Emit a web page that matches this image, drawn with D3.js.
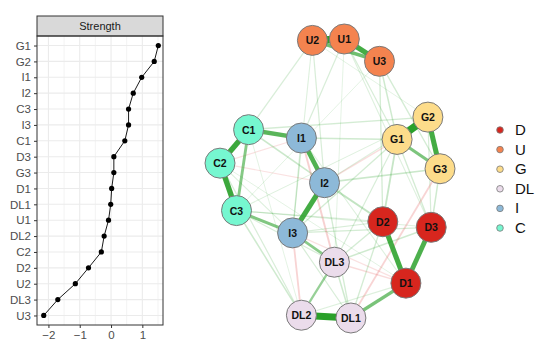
<!DOCTYPE html>
<html>
<head>
<meta charset="utf-8">
<script src="https://cdn.jsdelivr.net/npm/d3@7"></script>
<style>
  body { margin: 0; background: #fff; }
  svg { font-family: "Liberation Sans", Arial, sans-serif; }
</style>
</head>
<body>
<div id="chart"></div>
<script>
// centrality panel (strength, standardized)
const strengthNodes = ["G1", "G2", "I1", "I2", "C3", "I3", "C1", "D3", "G3",
  "D1", "DL1", "U1", "DL2", "C2", "D2", "U2", "DL3", "U3"];
const strengthValues = [1.51, 1.38, 0.98, 0.71, 0.56, 0.56, 0.44, 0.09, 0.09,
  0.02, -0.01, -0.08, -0.22, -0.31, -0.72, -1.14, -1.70, -2.15];
const strengthTicks = [-2, -1, 0, 1];

// network
const groups = ["D", "U", "G", "DL", "I", "C"];
const groupColors = ["#d7261e", "#f4834f", "#fddc8a", "#ebdceb", "#8db9d8", "#76f7d0"];
const nodeNames = ["U2", "U1", "U3", "G2", "G1", "G3", "C1", "I1", "C2",
  "I2", "C3", "I3", "D2", "D3", "DL3", "D1", "DL2", "DL1"];
const nodeGroups = ["U", "U", "U", "G", "G", "G", "C", "I", "C",
  "I", "C", "I", "D", "D", "DL", "D", "DL", "DL"];
// layout positions (qgraph-style, -1..1)
const layoutX = [-0.16, 0.13, 0.45, 0.89, 0.61, 1.0, -0.74, -0.26, -1.0,
  -0.05, -0.85, -0.34, 0.48, 0.92, 0.04, 0.69, -0.26, 0.19];
const layoutY = [0.99, 1.0, 0.84, 0.44, 0.28, 0.07, 0.35, 0.29, 0.11,
  -0.03, -0.23, -0.39, -0.31, -0.35, -0.60, -0.75, -0.98, -1.0];
// edges: [from, to, partial correlation]
const edges = [
  ["U1", "U2", 0.46], ["U1", "U3", 0.30], ["U2", "U3", 0.20],
  ["G1", "G2", 0.46], ["G2", "G3", 0.30], ["G1", "G3", 0.17],
  ["C1", "C2", 0.32], ["C2", "C3", 0.32], ["C1", "C3", 0.15], ["C1", "I1", 0.25],
  ["I1", "I2", 0.27], ["I2", "I3", 0.30], ["C3", "I3", 0.16],
  ["D1", "D2", 0.30], ["D1", "D3", 0.28], ["D1", "DL1", 0.18],
  ["DL1", "DL2", 0.42], ["DL3", "DL2", 0.11], ["I3", "DL3", 0.14], ["DL3", "DL1", 0.06],
  ["I2", "D2", 0.09], ["I2", "G3", 0.07], ["G1", "D2", 0.08], ["G3", "D3", 0.06],
  ["C1", "I2", 0.07], ["U3", "G1", 0.06], ["U3", "D2", 0.05], ["U3", "G3", 0.05],
  ["U2", "C1", 0.04], ["U2", "I2", 0.04], ["U1", "I1", 0.04], ["U1", "G1", 0.04],
  ["U1", "D3", 0.03], ["U2", "I3", 0.03], ["C1", "G2", 0.05], ["I1", "G1", 0.06],
  ["C3", "D2", 0.04], ["C3", "D3", 0.03], ["I3", "D3", 0.05], ["I3", "D2", 0.04],
  ["DL3", "D2", 0.05], ["DL3", "D3", 0.06], ["DL2", "C3", 0.06], ["DL2", "C2", 0.04],
  ["DL1", "I3", 0.04], ["DL1", "I2", 0.05], ["DL1", "D2", 0.05], ["DL2", "D1", 0.03],
  ["G1", "D3", 0.05], ["G2", "D3", 0.04], ["G1", "DL3", 0.04], ["G2", "C3", 0.03],
  ["G1", "I3", 0.05], ["I1", "I3", 0.05], ["C2", "I3", 0.03], ["C3", "DL3", 0.04],
  ["U2", "G2", 0.02], ["U3", "C3", 0.02], ["U1", "DL3", 0.02], ["C2", "D1", 0.02],
  ["I1", "D1", 0.03], ["G2", "I2", 0.03], ["C1", "DL2", 0.02],
  ["I1", "DL3", -0.09], ["I3", "DL2", -0.08], ["DL1", "G3", -0.08], ["DL3", "D1", -0.06],
  ["C2", "I2", -0.04], ["I2", "G1", -0.05], ["C2", "I1", -0.04], ["I3", "D1", -0.04]
];

const W = 550, H = 353;
const svg = d3.select("#chart").append("svg").attr("width", W).attr("height", H);

// ---------- left: strength plot ----------
const pL = 37, pR = 163, stripTop = 16, pT = 36, pB = 325;
const x = d3.scaleLinear().domain([-2.365, 1.66]).range([pL, pR]);
const y = d3.scalePoint().domain(strengthNodes).range([pT, pB]).padding(0.6);

const g = svg.append("g");
// minor grid
d3.range(-2.5, 2, 1).filter(v => x(v) > pL && x(v) < pR).forEach(v => {
  g.append("line").attr("x1", x(v)).attr("x2", x(v)).attr("y1", pT).attr("y2", pB)
    .attr("stroke", "#ebebeb").attr("stroke-width", 0.6);
});
strengthTicks.forEach(v => {
  g.append("line").attr("x1", x(v)).attr("x2", x(v)).attr("y1", pT).attr("y2", pB)
    .attr("stroke", "#ebebeb").attr("stroke-width", 1.1);
});
strengthNodes.forEach(n => {
  g.append("line").attr("x1", pL).attr("x2", pR).attr("y1", y(n)).attr("y2", y(n))
    .attr("stroke", "#ebebeb").attr("stroke-width", 1.1);
});
// strip
g.append("rect").attr("x", pL).attr("y", stripTop).attr("width", pR - pL).attr("height", pT - stripTop)
  .attr("fill", "#d9d9d9").attr("stroke", "#333").attr("stroke-width", 1);
g.append("text").attr("x", (pL + pR) / 2).attr("y", (stripTop + pT) / 2 + 4)
  .attr("text-anchor", "middle").attr("font-size", 11).attr("fill", "#1a1a1a").text("Strength");
// panel border
g.append("rect").attr("x", pL).attr("y", pT).attr("width", pR - pL).attr("height", pB - pT)
  .attr("fill", "none").attr("stroke", "#333").attr("stroke-width", 1);

const pts = strengthNodes.map((n, i) => ({ n, v: strengthValues[i] }));
g.append("path").datum(pts)
  .attr("d", d3.line().x(d => x(d.v)).y(d => y(d.n)))
  .attr("fill", "none").attr("stroke", "#000").attr("stroke-width", 0.9);
g.selectAll("circle.pt").data(pts).enter().append("circle")
  .attr("cx", d => x(d.v)).attr("cy", d => y(d.n)).attr("r", 2.6).attr("fill", "#000");

// axes
const yAxis = g.append("g").attr("transform", `translate(${pL},0)`)
  .call(d3.axisLeft(y).tickSize(3).tickPadding(3));
const xAxis = g.append("g").attr("transform", `translate(0,${pB})`)
  .call(d3.axisBottom(x).tickValues(strengthTicks).tickSize(3).tickPadding(3)
    .tickFormat(d => d < 0 ? "\u2212" + Math.abs(d) : d));
[yAxis, xAxis].forEach(a => {
  a.select(".domain").remove();
  a.selectAll(".tick line").attr("stroke", "#333");
  a.selectAll("text").attr("font-size", 11.5).attr("fill", "#4d4d4d")
    .attr("font-family", "\"Liberation Sans\", Arial, sans-serif");
});

// ---------- right: network ----------
const nx = d3.scaleLinear().domain([-1, 1]).range([220, 440]);
const ny = d3.scaleLinear().domain([-1, 1]).range([318, 39]);
const color = d3.scaleOrdinal().domain(groups).range(groupColors);
const nodes = nodeNames.map((n, i) => ({ n, g: nodeGroups[i], x: layoutX[i], y: layoutY[i] }));
const byName = new Map(nodes.map(d => [d.n, d]));
const wWidth = d3.scaleLinear().domain([0, 0.46]).range([0.6, 7.5]);
const wAlpha = d3.scaleLinear().domain([0, 0.46]).range([0.06, 1]).clamp(true);

const net = svg.append("g");
const edgeData = edges.slice().sort((a, b) => Math.abs(a[2]) - Math.abs(b[2]));
net.selectAll("line.edge").data(edgeData).enter().append("line")
  .attr("x1", d => nx(byName.get(d[0]).x)).attr("y1", d => ny(byName.get(d[0]).y))
  .attr("x2", d => nx(byName.get(d[1]).x)).attr("y2", d => ny(byName.get(d[1]).y))
  .attr("stroke", d => d[2] > 0 ? "#2aa02a" : "#e35d5d")
  .attr("stroke-opacity", d => wAlpha(Math.abs(d[2]) + (Math.abs(d[2]) > 0.1 ? 0.1 : 0.02)))
  .attr("stroke-width", d => wWidth(Math.abs(d[2])));

const nodeG = net.selectAll("g.node").data(nodes).enter().append("g")
  .attr("transform", d => `translate(${nx(d.x)},${ny(d.y)})`);
nodeG.append("circle").attr("r", 15).attr("fill", d => color(d.g))
  .attr("stroke", "#7a7a7a").attr("stroke-width", 1);
nodeG.append("text").attr("text-anchor", "middle").attr("dy", 4)
  .attr("font-size", 10.5).attr("font-weight", "bold").attr("fill", "#111").text(d => d.n);

// legend
const leg = svg.append("g");
groups.forEach((gr, i) => {
  const ly = 130 + i * 19.6;
  leg.append("circle").attr("cx", 500).attr("cy", ly).attr("r", 3.3)
    .attr("fill", color(gr)).attr("stroke", "#7a7a7a").attr("stroke-width", 0.8);
  leg.append("text").attr("x", 515).attr("y", ly + 5).attr("font-size", 15)
    .attr("fill", "#111").text(gr);
});
</script>
</body>
</html>
